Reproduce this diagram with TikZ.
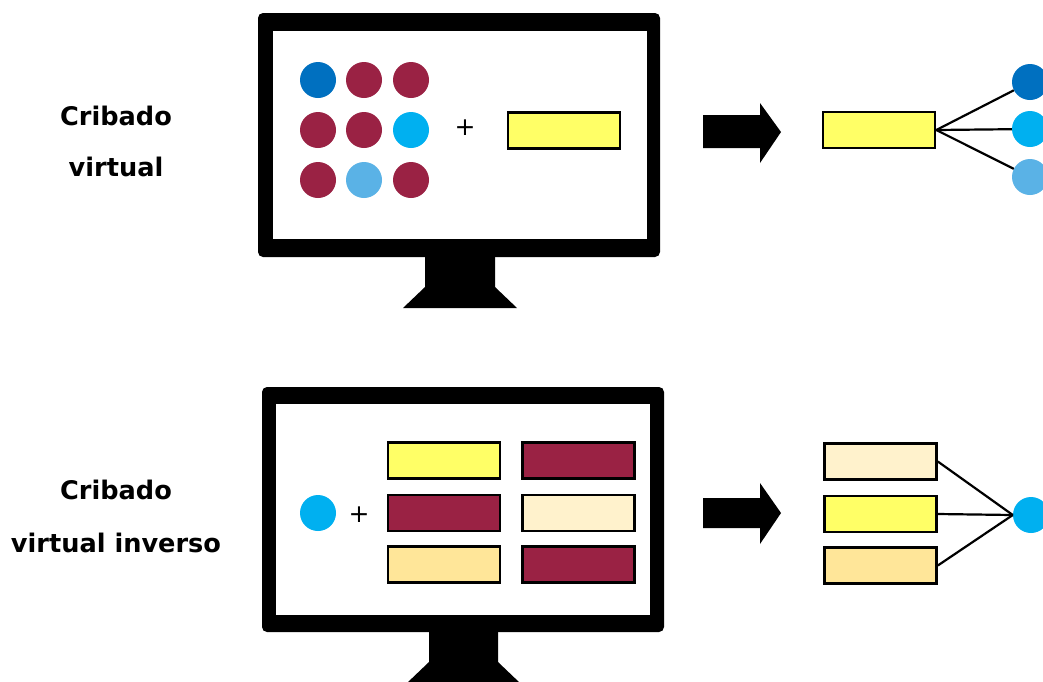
\documentclass[tikz,border=0pt]{standalone}
\usepackage{fontspec}
\setmainfont{DejaVu Sans}
\definecolor{maroon}{HTML}{9A2244}
\definecolor{dblue}{HTML}{0070C0}
\definecolor{cyanb}{HTML}{00B0F0}
\definecolor{lblue}{HTML}{5AB2E6}
\definecolor{yel}{HTML}{FFFF66}
\definecolor{cream}{HTML}{FFF2CC}
\definecolor{lorange}{HTML}{FFE699}
\begin{document}
\begin{tikzpicture}[x=1pt,y=-1pt,
  dot/.style={circle,minimum size=36pt,inner sep=0pt,fill=#1},
  mol/.style={draw=black,line width=2.6pt,fill=#1,minimum width=112pt,minimum height=36pt,inner sep=0pt},
  lbl/.style={font=\fontsize{25.6}{30}\selectfont\bfseries,anchor=base,inner sep=0pt},
  plus/.style={font=\fontsize{25}{28}\selectfont,inner sep=0pt},
  link/.style={line width=2.2pt}]
\clip (0,0) rectangle (1043,681);
\useasboundingbox (0,0) rectangle (1043,681);
\fill[white] (0,0) rectangle (1043,681);

% labels
\node[lbl] (t1) at (116,125) {Cribado};
\node[lbl] (t2) at (116,176) {virtual};
\node[lbl] (t3) at (116,499) {Cribado};
\node[lbl] (t4) at (116,552) {virtual inverso};

% top monitor
\fill[black,rounded corners=5pt] (258,13) rectangle (660,257);
\fill[white] (273,31) rectangle (647,239);
\fill[black] (425,255) -- (495,255) -- (495,287) -- (517,308) -- (403,308) -- (425,287) -- cycle;

\node[dot=dblue]  (a11) at (318,80) {};
\node[dot=maroon] (a12) at (364,80) {};
\node[dot=maroon] (a13) at (411,80) {};
\node[dot=maroon] (a21) at (318,130) {};
\node[dot=maroon] (a22) at (364,130) {};
\node[dot=cyanb]  (a23) at (411,130) {};
\node[dot=maroon] (a31) at (318,180) {};
\node[dot=lblue]  (a32) at (364,180) {};
\node[dot=maroon] (a33) at (411,180) {};
\node[plus] (p1) at (465,128) {+};
\node[mol=yel] (ry) at (564,130.5) {};

% top arrow
\fill[black] (703,115) -- (760,115) -- (760,103) -- (781,132) -- (760,163) -- (760,148) -- (703,148) -- cycle;

% top result
\node[mol=yel] (ry2) at (879,130) {};
\node[dot=dblue] (b1) at (1030,82) {};
\node[dot=cyanb] (b2) at (1030,129) {};
\node[dot=lblue] (b3) at (1030,177) {};
\draw[link] (ry2.east) -- (b1);
\draw[link] (ry2.east) -- (b2);
\draw[link] (ry2.east) -- (b3);

% bottom monitor
\fill[black,rounded corners=5pt] (262,387) rectangle (664,632);
\fill[white] (276,404) rectangle (650,615);
\fill[black] (429,630) -- (498,630) -- (498,662) -- (520,683) -- (407,683) -- (429,662) -- cycle;

\node[dot=cyanb] (c0) at (318,513) {};
\node[plus] (p2) at (359,515) {+};
\node[mol=yel]     (m11) at (444,460.5) {};
\node[mol=maroon]  (m12) at (578.5,460.5) {};
\node[mol=maroon]  (m21) at (444,513) {};
\node[mol=cream]   (m22) at (578.5,513) {};
\node[mol=lorange] (m31) at (444,564.5) {};
\node[mol=maroon]  (m32) at (578.5,564.5) {};

% bottom arrow
\fill[black] (703,498) -- (760,498) -- (760,483) -- (781,513) -- (760,544) -- (760,528) -- (703,528) -- cycle;

% bottom result
\node[mol=cream]   (n1) at (880.5,461.5) {};
\node[mol=yel]     (n2) at (880.5,514) {};
\node[mol=lorange] (n3) at (880.5,565.5) {};
\node[dot=cyanb] (c1) at (1031,515) {};
\draw[link] (n1.east) -- (c1.west);
\draw[link] (n2.east) -- (c1.west);
\draw[link] (n3.east) -- (c1.west);
\end{tikzpicture}
\end{document}
